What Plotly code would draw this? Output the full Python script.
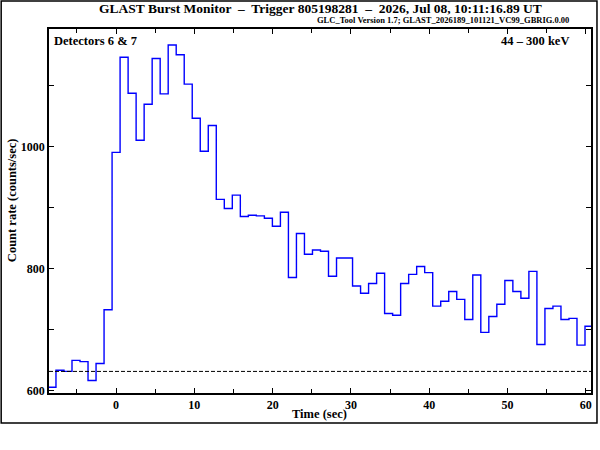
import numpy as np
import plotly.graph_objects as go

# Tasa de conteo (counts/sec), bins de 1.024 s, del bin -8 al bin 59
BIN_WIDTH = 1.024
FIRST_BIN = -8
RATES = [
    605, 633, 631, 649, 647, 616, 644, 732,
    990, 1146, 1087, 1010, 1069, 1144, 1086, 1166, 1150, 1102,
    1046, 992, 1034, 913, 898, 920, 885, 887, 886, 882,
    869, 892, 785, 857, 823, 830, 828, 787, 817, 817,
    771, 759, 775, 792, 726, 723, 775, 790, 803, 793,
    738, 746, 762, 749, 716, 789, 695, 721, 741, 780,
    762, 751, 795, 675, 734, 738, 716, 718, 674, 705,
]
BACKGROUND = 631

TITLE = "GLAST Burst Monitor  \u2013  Trigger 805198281  \u2013  2026, Jul 08, 10:11:16.89 UT"
SUBTITLE = "GLC_Tool Version 1.7; GLAST_2026189_101121_VC99_GBRIG.0.00"
DETECTORS = "Detectors 6 & 7"
ENERGY = "44 \u2013 300 keV"
X_TITLE = "Time (sec)"
Y_TITLE = "Count rate (counts/sec)"

X_RANGE = [-8.57, 60.67]
Y_RANGE = [595.6, 1192.3]

FONT = "Liberation Serif"
AZUL = "#0000ff"

W, H = 600, 450
L, R, T, B = 49, 7, 29, 57
PW, PH = W - L - R, H - T - B


def px(x):
    return (x - L) / PW


def py(y):
    return (H - B - y) / PH


edges = (FIRST_BIN - 0.5) * BIN_WIDTH + BIN_WIDTH * np.arange(len(RATES) + 1)
yvals = RATES + [RATES[-1]]

fig = go.Figure(
    go.Scatter(x=edges, y=yvals, mode="lines", line_shape="hv",
               line={"color": AZUL, "width": 1.4}, hoverinfo="skip")
)

eje = dict(
    showline=True, linecolor="black", linewidth=1.5, mirror="ticks",
    ticks="inside", ticklen=5, tickwidth=1, tickcolor="black",
    showgrid=False, zeroline=False,
    tickfont={"family": FONT, "size": 12, "color": "black", "weight": "bold"},
)
fig.update_xaxes(range=X_RANGE, dtick=10, tick0=0,
                 minor={"dtick": 5, "ticks": "inside", "ticklen": 4, "tickcolor": "black"}, **eje)
fig.update_yaxes(range=Y_RANGE, dtick=200, tick0=0,
                 minor={"dtick": 100, "ticks": "inside", "ticklen": 5, "tickcolor": "black"}, **eje)

textos = [
    (TITLE, 321, 9, "center", 13.5, 0),
    (SUBTITLE, 573, 20, "right", 8.5, 0),
    (DETECTORS, 52, 41, "left", 12.5, 0),
    (ENERGY, 573, 41, "right", 12.5, 0),
    (X_TITLE, 320, 414, "center", 12.5, 0),
    (Y_TITLE, 12, 200, "center", 12.5, -90),
]
for texto, x, y, anclaje, size, angulo in textos:
    fig.add_annotation(
        text=texto, x=px(x), y=py(y), xref="paper", yref="paper",
        xanchor=anclaje, yanchor="middle", showarrow=False, textangle=angulo,
        font={"family": FONT, "size": size, "color": "black", "weight": "bold"},
    )

# fondo (línea discontinua) y marco exterior
fig.add_shape(type="line", xref="paper", yref="y", x0=0, x1=1, y0=BACKGROUND, y1=BACKGROUND,
              line={"color": "black", "width": 1, "dash": "4px,2px"})
fig.add_shape(type="rect", xref="paper", yref="paper",
              x0=px(1), x1=px(599), y0=py(423), y1=py(1),
              line={"color": "black", "width": 1.5})

fig.update_layout(
    width=W, height=H, margin={"l": L, "r": R, "t": T, "b": B},
    paper_bgcolor="white", plot_bgcolor="white", showlegend=False,
)
fig.write_html("out.html", config={"displayModeBar": False},
               post_script="document.body.style.margin='0';")
